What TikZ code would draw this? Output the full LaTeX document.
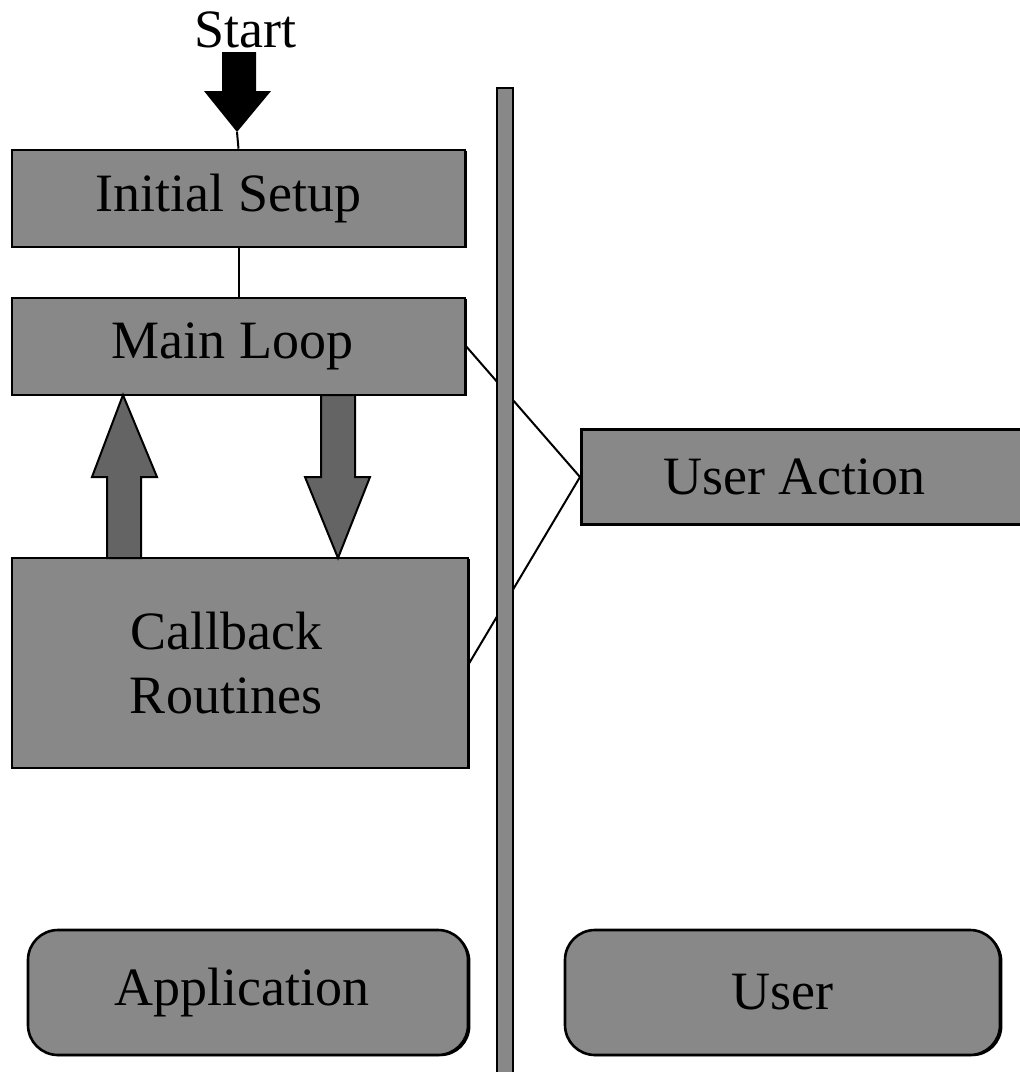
\documentclass[tikz,border=0pt]{standalone}
\usepackage{fontspec}
\setmainfont{Liberation Serif}
\usetikzlibrary{shadows}
\begin{document}
\begin{tikzpicture}[x=0.5pt,y=-0.5pt,
  boxfill/.style={fill={rgb,255:red,136;green,136;blue,136}},
  procbox/.style={boxfill, draw=black, line width=1.3pt, rectangle, inner sep=0pt,
    font=\fontsize{27pt}{32pt}\selectfont, align=center,
    drop shadow={shadow xshift=1.2pt, shadow yshift=-0.6pt, fill=black, opacity=1}},
  rolebox/.style={procbox, rounded corners=15pt},
  blockarrow/.style={fill={rgb,255:red,100;green,100;blue,100}, draw=black, line width=1pt, line join=miter},
  link/.style={draw=black, line width=1pt}]
\useasboundingbox (0,0) rectangle (1020,1072);

% start label and entry arrow
\node[font=\fontsize{27pt}{30pt}\selectfont] (start) at (245,30) {Start};
\coordinate (starttip) at (237,132);
\fill[black] (222,52) -- (256,52) -- (256,91) -- (271,91) -- (starttip) -- (204,91) -- (222,91) -- cycle;

% application side
\node[procbox, minimum width=453pt/2, minimum height=97pt/2] (setup) at (238.5,198.5) {Initial Setup\hspace*{10pt}};
\node[procbox, minimum width=453pt/2, minimum height=97pt/2] (loop) at (238.5,346.5) {Main Loop\hspace*{6pt}};
\node[procbox, minimum width=456pt/2, minimum height=210pt/2] (callback) at (240,663) {Callback\hspace*{14pt}\\Routines\hspace*{14pt}};

\draw[link] (starttip) -- (setup.north);
\draw[link] (setup.south) -- (loop.north);

% flow between main loop and callbacks
\draw[blockarrow] (107,558) -- (141,558) -- (141,477) -- (157,477) -- (123,395) -- (92,477) -- (107,477) -- cycle;
\draw[blockarrow] (321,395) -- (355,395) -- (355,477) -- (370,477) -- (338,558) -- (305,477) -- (321,477) -- cycle;

% user side
\node[procbox, minimum width=450pt/2, minimum height=95pt/2, anchor=west] (action) at (580,477) {User Action\hspace*{12pt}};

% links to the user action
\draw[link] (loop.east) -- (action.west);
\draw[link] (callback.east) -- (action.west);

% divider bar
\draw[boxfill, draw=black, line width=1pt] (497,88) rectangle (513,1085);

% legend
\node[rolebox, minimum width=440pt/2, minimum height=125pt/2] (app) at (248,992.5) {Application\hspace*{6pt}};
\node[rolebox, minimum width=435pt/2, minimum height=125pt/2] (user) at (782.5,992.5) {User};
\end{tikzpicture}
\end{document}
